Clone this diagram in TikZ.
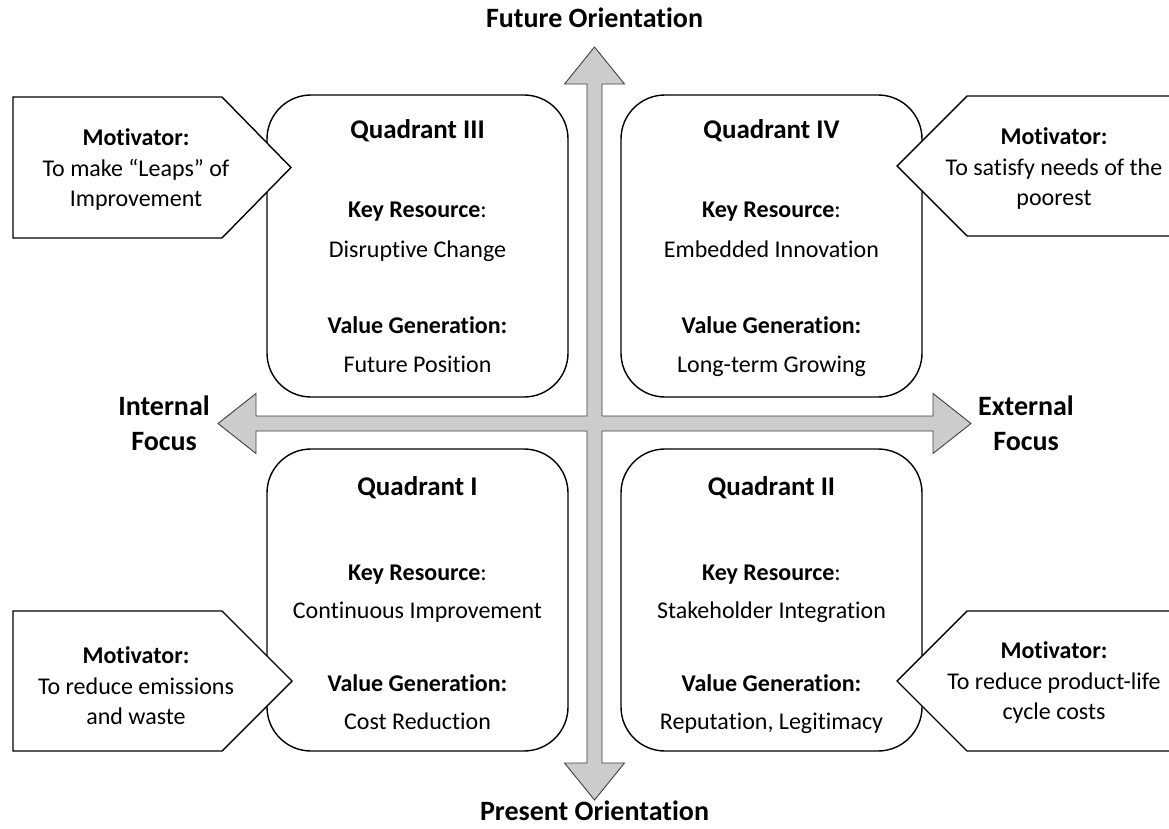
\documentclass[tikz,border=0pt]{standalone}
\usepackage{fontspec}
\setmainfont{Carlito}[Ligatures={NoCommon}]
\definecolor{axisfill}{RGB}{204,204,204}
\definecolor{axisline}{RGB}{64,64,64}
\tikzset{
  quadbox/.style={draw=black, line width=1.4pt, rounded corners=44pt, fill=white},
  callout/.style={draw=black, line width=1.4pt, fill=white, line join=miter},
  axisshape/.style={fill=axisfill, draw=axisline, line width=0.9pt, line join=miter},
  qtitle/.style={anchor=base, inner sep=0pt, font=\fontsize{27}{32}\selectfont\bfseries},
  qhead/.style={anchor=base, inner sep=0pt, font=\fontsize{24}{29}\selectfont\bfseries},
  qtext/.style={anchor=base, inner sep=0pt, font=\fontsize{24}{29}\selectfont},
  calltext/.style={align=center, inner sep=0pt, font=\fontsize{24}{30.5}\selectfont},
  axislabel/.style={align=center, inner sep=0pt, font=\fontsize{28}{35}\selectfont\bfseries}
}
\begin{document}
\begin{tikzpicture}[x=1pt,y=-1pt]
\useasboundingbox (0,0) rectangle (1169,829);
\fill[white] (0,0) rectangle (1169,829);

% axes (one cross-shaped double arrow)
\draw[axisshape] (594.5,47) -- (624.5,84) -- (602,84) -- (602,416) -- (933,416) -- (933,393.5)
  -- (971,423.5) -- (933,453.5) -- (933,431) -- (602,431) -- (602,763) -- (624.5,763)
  -- (594.5,800) -- (564.5,763) -- (587,763) -- (587,431) -- (256,431) -- (256,453.5)
  -- (218,423.5) -- (256,393.5) -- (256,416) -- (587,416) -- (587,84) -- (564.5,84) -- cycle;

% axis labels
\node[axislabel] (future) at (594.5,18) {Future Orientation};
\node[axislabel] (present) at (594.5,811) {Present Orientation};
\node[axislabel] (internal) at (164,423) {Internal\\Focus};
\node[axislabel] (external) at (1026,423) {External\\Focus};

% quadrant boxes
\node[quadbox, minimum width=301pt, minimum height=302pt] (q3) at (417.5,246) {};
\node[quadbox, minimum width=301pt, minimum height=302pt] (q4) at (771.5,246) {};
\node[quadbox, minimum width=301pt, minimum height=302pt] (q1) at (417.5,600) {};
\node[quadbox, minimum width=301pt, minimum height=302pt] (q2) at (771.5,600) {};

% Quadrant III
\node[qtitle] (q3t) at (417.5,139) {Quadrant III};
\node[qhead] (q3k) at (417.5,218) {Key Resource\mdseries:};
\node[qtext] (q3kv) at (417.5,257) {Disruptive Change};
\node[qhead] (q3v) at (417.5,333) {Value Generation:};
\node[qtext] (q3vv) at (417.5,372) {Future Position};

% Quadrant IV
\node[qtitle] (q4t) at (771.5,139) {Quadrant IV};
\node[qhead] (q4k) at (771.5,218) {Key Resource\mdseries:};
\node[qtext] (q4kv) at (771.5,257) {Embedded Innovation};
\node[qhead] (q4v) at (771.5,333) {Value Generation:};
\node[qtext] (q4vv) at (771.5,372) {Long-term Growing};

% Quadrant I
\node[qtitle] (q1t) at (417.5,495) {Quadrant I};
\node[qhead] (q1k) at (417.5,580) {Key Resource\mdseries:};
\node[qtext] (q1kv) at (417.5,618) {Continuous Improvement};
\node[qhead] (q1v) at (417.5,691) {Value Generation:};
\node[qtext] (q1vv) at (417.5,729) {Cost Reduction};

% Quadrant II
\node[qtitle] (q2t) at (771.5,495) {Quadrant II};
\node[qhead] (q2k) at (771.5,580) {Key Resource\mdseries:};
\node[qtext] (q2kv) at (771.5,618) {Stakeholder Integration};
\node[qhead] (q2v) at (771.5,691) {Value Generation:};
\node[qtext] (q2vv) at (771.5,729) {Reputation, Legitimacy};

% callouts
\draw[callout] (13,97) -- (222,97) -- (291,167.5) -- (222,238) -- (13,238) -- cycle;
\draw[callout] (13,611) -- (222,611) -- (292,681) -- (222,751) -- (13,751) -- cycle;
\draw[callout] (1185,96) -- (967,96) -- (897,166) -- (967,236) -- (1185,236);
\draw[callout] (1185,611) -- (967,611) -- (897,681) -- (967,751) -- (1185,751);

\node[calltext] (m3) at (136,170) {\textbf{Motivator:}\\To make “Leaps” of\\Improvement};
\node[calltext] (m4) at (1054,169) {\textbf{Motivator:}\\To satisfy needs of the\\poorest};
\node[calltext] (m1) at (136,686) {\textbf{Motivator:}\\To reduce emissions\\and waste};
\node[calltext] (m2) at (1054,683) {\textbf{Motivator:}\\To reduce product-life\\cycle costs};
\end{tikzpicture}
\end{document}
